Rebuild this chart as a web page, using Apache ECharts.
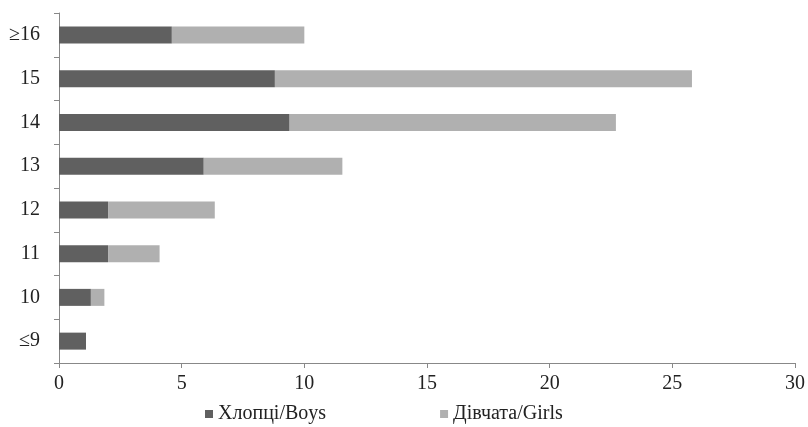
<!DOCTYPE html>
<html>
<head>
<meta charset="utf-8">
<script src="https://cdn.jsdelivr.net/npm/echarts@6/dist/echarts.min.js"></script>
<style>html,body{margin:0;padding:0;background:#fff}#c{width:808px;height:427px}</style>
</head>
<body>
<div id="c"></div>
<script>
var categories = ['≤9', '10', '11', '12', '13', '14', '15', '≥16'];
var boys = [1.1, 1.3, 2.0, 2.0, 5.9, 9.4, 8.8, 4.6];
var girls = [0, 0.55, 2.1, 4.35, 5.65, 13.3, 17.0, 5.4];
var xTicks = [0, 30, 5];
var seriesNames = ['Хлопці/Boys', 'Дівчата/Girls'];

var font = '"Liberation Serif", "Times New Roman", serif';
var chart = echarts.init(document.getElementById('c'));
chart.setOption({
  animation: false,
  textStyle: { fontFamily: font },
  grid: { left: 59, right: 11, top: 13, bottom: 64, containLabel: false },
  legend: {
    top: 399, left: 200,
    itemWidth: 8, itemHeight: 8, itemGap: 114,
    icon: 'rect',
    textStyle: { fontFamily: font, fontSize: 20, color: '#222' },
    data: seriesNames
  },
  xAxis: {
    type: 'value', min: xTicks[0], max: xTicks[1], interval: xTicks[2],
    axisLine: { show: true, lineStyle: { color: '#888', width: 1 } },
    axisTick: { show: true, length: 5, lineStyle: { color: '#888' } },
    splitLine: { show: false },
    axisLabel: { fontFamily: font, fontSize: 20, color: '#222', margin: 11 }
  },
  yAxis: {
    type: 'category', data: categories,
    axisLine: { show: true, lineStyle: { color: '#888', width: 1 } },
    axisTick: { show: true, length: 5, lineStyle: { color: '#888' } },
    axisLabel: { fontFamily: font, fontSize: 20, color: '#222', margin: 19 }
  },
  series: [
    { name: seriesNames[0], type: 'bar', stack: 's', data: boys, barWidth: 17,
      itemStyle: { color: '#606060' } },
    { name: seriesNames[1], type: 'bar', stack: 's', data: girls, barWidth: 17,
      itemStyle: { color: '#b0b0b0' } }
  ]
});
</script>
</body>
</html>
